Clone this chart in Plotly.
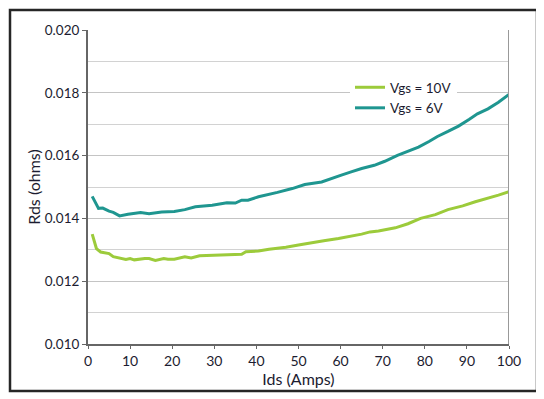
import plotly.graph_objects as go

# Vgs = 10V
ids_10 = [1, 2, 3, 5, 6, 7.5, 9, 10, 11, 13.5, 14.5, 16, 18, 19, 20.5, 23, 24.5, 26.5, 30, 32.5,
          36.5, 37.5, 40.5, 43, 47, 50, 53, 56, 59.5, 62.5, 65, 67, 69, 73, 76, 79, 82.5, 85.5,
          89, 92, 95, 97.5, 100]
rds_10 = [0.01350, 0.01304, 0.01293, 0.01288, 0.01278, 0.01274, 0.01269, 0.01272, 0.01268, 0.01272,
          0.01272, 0.01266, 0.01272, 0.01270, 0.01270, 0.01278, 0.01274, 0.01281, 0.01283, 0.01286,
          0.01286, 0.01294, 0.01296, 0.01302, 0.01308, 0.01315, 0.01323, 0.01329, 0.01336, 0.01343,
          0.01350, 0.01357, 0.01360, 0.01370, 0.01383, 0.01400, 0.01412, 0.01428, 0.01440, 0.01453,
          0.01464, 0.01474, 0.01485]

# Vgs = 6V
ids_6 = [1, 2.5, 3.5, 5, 6, 7.5, 9.5, 12.5, 14.5, 17.5, 20.5, 23, 25.5, 29.5, 33, 35, 36.5, 38,
         40.5, 43, 45, 48.5, 51.5, 55.5, 58, 60, 62.5, 65, 68, 70.5, 73.5, 76, 78.5, 81, 83, 85.5,
         88, 90.5, 92.5, 95, 97.5, 100]
rds_6 = [0.01470, 0.01432, 0.01433, 0.01423, 0.01419, 0.01408, 0.01413, 0.01419, 0.01415, 0.01420,
         0.01422, 0.01428, 0.01437, 0.01442, 0.01450, 0.01449, 0.01458, 0.01458, 0.01469, 0.01476,
         0.01483, 0.01495, 0.01508, 0.01516, 0.01529, 0.01537, 0.01548, 0.01559, 0.01569, 0.01582,
         0.01601, 0.01615, 0.01627, 0.01645, 0.01661, 0.01677, 0.01694, 0.01715, 0.01733, 0.01749,
         0.01770, 0.01795]

x_ticks = [0, 10, 20, 30, 40, 50, 60, 70, 80, 90, 100]
y_ticks = [0.010, 0.012, 0.014, 0.016, 0.018, 0.020]
y_tick_text = ["0.010", "0.012", "0.014", "0.016", "0.018", "0.020"]

GREEN = "#9CCB3B"
TEAL = "#1F9690"
TXT = "#1c1c30"
FONT = "Lato"

fig = go.Figure()
fig.add_trace(go.Scatter(x=ids_10, y=rds_10, mode="lines", name="Vgs = 10V",
                         line=dict(color=GREEN, width=3)))
fig.add_trace(go.Scatter(x=ids_6, y=rds_6, mode="lines", name="Vgs = 6V",
                         line=dict(color=TEAL, width=3)))

# page has an 8px body margin: figure occupies page px 8..544 / 8..399
OFF = 8
W, H = 544 - OFF, 399 - OFF
L, R, T, B = 88 - OFF, 35, 30 - OFF, 55
pw, ph = W - L - R, H - T - B

def px_x(p):  # page pixel -> paper
    return (p - OFF - L) / pw

def px_y(p):
    return (H - B - (p - OFF)) / ph

fig.update_layout(
    width=W, height=H,
    margin=dict(l=L, r=R, t=T, b=B),
    paper_bgcolor="white", plot_bgcolor="white",
    font=dict(family=FONT, color=TXT, size=13),
    showlegend=True,
    legend=dict(x=px_x(350), y=px_y(72), xanchor="left", yanchor="top",
                bgcolor="white", font=dict(size=13.5, family=FONT, color=TXT),
                itemwidth=30, tracegroupgap=0),
    xaxis=dict(range=[0, 100], tickvals=x_ticks, ticktext=[str(v) for v in x_ticks],
               showgrid=False, zeroline=False, showline=True, linecolor="#666666",
               linewidth=2, ticks="outside", ticklen=3, tickcolor="#666666",
               title=dict(text="Ids (Amps)", font=dict(size=16, family=FONT, color=TXT), standoff=0),
               tickfont=dict(size=14)),
    yaxis=dict(range=[0.010, 0.020], tickvals=y_ticks, ticktext=y_tick_text,
               showgrid=True, gridcolor="#c4c4c4", gridwidth=1.3,
               zeroline=False, showline=True, linecolor="#666666", linewidth=2,
               ticks="outside", ticklen=4, tickcolor="#666666",
               minor=dict(dtick=0.001, tick0=0.010, showgrid=True, gridcolor="#d2d2d2", gridwidth=1.3),
               title=dict(text="Rds (ohms)", font=dict(size=16, family=FONT, color=TXT), standoff=0),
               tickfont=dict(size=13.5)),
    shapes=[
        dict(type="line", xref="x", yref="y", x0=100, x1=100, y0=0.010, y1=0.020,
             line=dict(color="#999999", width=2)),
        dict(type="rect", xref="paper", yref="paper",
             x0=px_x(10), x1=px_x(537), y0=px_y(391), y1=px_y(10),
             line=dict(color="#262626", width=2.5), fillcolor="rgba(0,0,0,0)", layer="above"),
    ],
)

fig.write_html("out.html")
